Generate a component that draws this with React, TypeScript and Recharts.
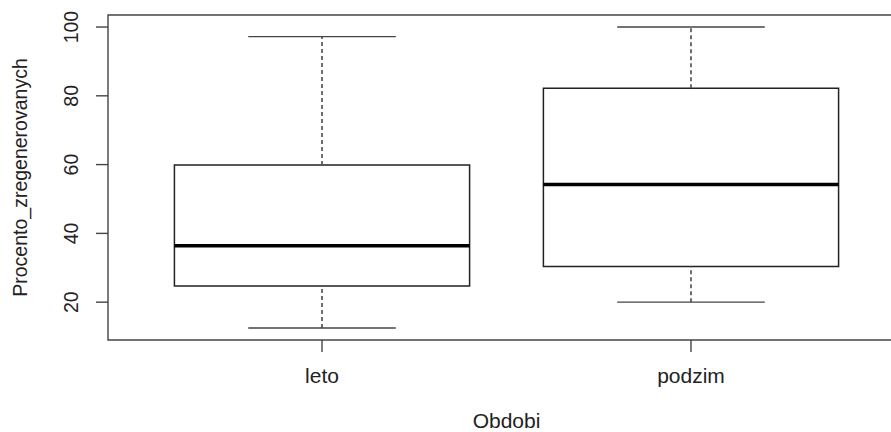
import React from 'react';
import { ComposedChart, XAxis, YAxis, Scatter, ReferenceArea, ReferenceLine } from 'recharts';

const categories = ['leto', 'podzim'];
const whiskerLow = [12.5, 20];
const q1 = [24.7, 30.4];
const medians = [36.4, 54.2];
const q3 = [59.9, 82.2];
const whiskerHigh = [97.2, 100];
const yTicks = [20, 40, 60, 80, 100];

const points = categories.map((c, i) => ({ x: i + 1, y: medians[i], name: c }));

const FONT = '"Liberation Sans", Arial, sans-serif';
const INK = '#222';

const XTick = (props: any) => {
  const { x, y, payload } = props;
  return (
    <text x={x} y={y + 31} textAnchor="middle" fontFamily={FONT} fontSize={21} fill={INK}>
      {categories[payload.value - 1]}
    </text>
  );
};

const YTick = (props: any) => {
  const { x, y, payload } = props;
  const bx = x - 18;
  return (
    <text x={bx} y={y} transform={`rotate(-90, ${bx}, ${y})`} textAnchor="middle" fontFamily={FONT} fontSize={19.5} fill={INK}>
      {payload.value}
    </text>
  );
};

export default function App() {
  return (
    <div style={{ position: 'fixed', left: 0, top: 0, width: 891, height: 432, overflow: 'hidden', background: '#fff' }}>
      <ComposedChart width={920} height={432} data={points} margin={{ top: 15, right: 15, bottom: 0, left: 0 }}>
        <XAxis
          type="number"
          dataKey="x"
          domain={[0.42, 2.58]}
          ticks={[1, 2]}
          allowDataOverflow
          axisLine={false}
          tickSize={12}
          tickMargin={0}
          tickLine={{ stroke: '#444', strokeWidth: 1.4 }}
          height={92}
          tick={<XTick />}
          label={{
            content: (p: any) => {
              const vb = p.viewBox;
              return (
                <text x={vb.x + vb.width / 2} y={vb.y + 87.5} textAnchor="middle" fontFamily={FONT} fontSize={21} fill={INK}>
                  Obdobi
                </text>
              );
            },
          }}
        />
        <YAxis
          type="number"
          dataKey="y"
          domain={[9, 103.5]}
          ticks={yTicks}
          allowDataOverflow
          axisLine={false}
          tickSize={12}
          tickMargin={0}
          tickLine={{ stroke: '#444', strokeWidth: 1.4 }}
          width={108}
          tick={<YTick />}
          label={{
            content: (p: any) => {
              const vb = p.viewBox;
              const cy = vb.y + vb.height / 2;
              return (
                <text x={27} y={cy} transform={`rotate(-90, 27, ${cy})`} textAnchor="middle" fontFamily={FONT} fontSize={19.5} fill={INK}>
                  Procento_zregenerovanych
                </text>
              );
            },
          }}
        />
        <ReferenceArea x1={0.42} x2={2.58} y1={9} y2={103.5} fill="none" stroke="#444" strokeWidth={1.4} ifOverflow="visible" />
        {categories.map((c, i) => (
          <ReferenceLine key={'wl' + c} segment={[{ x: i + 1, y: whiskerLow[i] }, { x: i + 1, y: q1[i] }]} stroke="#555" strokeWidth={1.7} strokeDasharray="4 3" />
        ))}
        {categories.map((c, i) => (
          <ReferenceLine key={'wh' + c} segment={[{ x: i + 1, y: q3[i] }, { x: i + 1, y: whiskerHigh[i] }]} stroke="#555" strokeWidth={1.7} strokeDasharray="4 3" />
        ))}
        {categories.map((c, i) => (
          <ReferenceLine key={'cl' + c} segment={[{ x: i + 0.8, y: whiskerLow[i] }, { x: i + 1.2, y: whiskerLow[i] }]} stroke="#444" strokeWidth={1.4} />
        ))}
        {categories.map((c, i) => (
          <ReferenceLine key={'ch' + c} segment={[{ x: i + 0.8, y: whiskerHigh[i] }, { x: i + 1.2, y: whiskerHigh[i] }]} stroke="#444" strokeWidth={1.4} />
        ))}
        {categories.map((c, i) => (
          <ReferenceArea key={'box' + c} x1={i + 0.6} x2={i + 1.4} y1={q1[i]} y2={q3[i]} fill="#fff" fillOpacity={1} stroke={INK} strokeWidth={1.5} />
        ))}
        {categories.map((c, i) => (
          <ReferenceLine key={'med' + c} segment={[{ x: i + 0.6, y: medians[i] }, { x: i + 1.4, y: medians[i] }]} stroke="#000" strokeWidth={3.5} />
        ))}
        <Scatter dataKey="y" isAnimationActive={false} shape={() => <g />} />
      </ComposedChart>
    </div>
  );
}
